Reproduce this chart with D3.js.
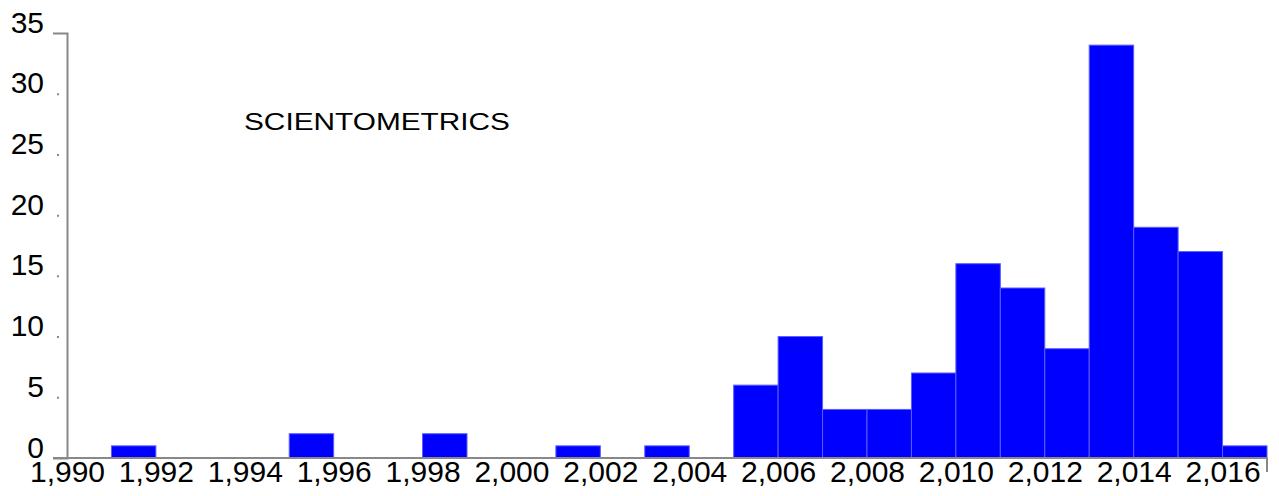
<!DOCTYPE html>
<html>
<head>
<meta charset="utf-8">
<script src="https://cdn.jsdelivr.net/npm/d3@7"></script>
<style>
  html, body { margin: 0; padding: 0; background: #fff; }
  svg { display: block; }
  text { font-family: "Liberation Sans", Arial, sans-serif; fill: #000; }
</style>
</head>
<body>
<svg id="chart" width="1279" height="496"></svg>
<script>
// Data
const binStarts = [1991, 1995, 1998, 2001, 2003, 2005, 2006, 2007, 2008, 2009, 2010, 2011, 2012, 2013, 2014, 2015, 2016];
const counts    = [1,    2,    2,    1,    1,    6,    10,   4,    4,    7,    16,   14,   9,    34,   19,   17,   1];
const xTicks = [1990, 1992, 1994, 1996, 1998, 2000, 2002, 2004, 2006, 2008, 2010, 2012, 2014, 2016];
const yTicks = [0, 5, 10, 15, 20, 25, 30, 35];
const title = "SCIENTOMETRICS";

const svg = d3.select("#chart");
const x = d3.scaleLinear().domain([1990, 2017]).range([67, 1267]);
const y = d3.scaleLinear().domain([0, 35]).range([458, 33]);

// bars
svg.append("g").selectAll("rect")
  .data(binStarts.map((s, i) => ({s, v: counts[i]})))
  .join("rect")
  .attr("x", d => x(d.s))
  .attr("width", d => x(d.s + 1) - x(d.s))
  .attr("y", d => y(d.v))
  .attr("height", d => y(0) - y(d.v))
  .attr("fill", "#0000ff")
  .attr("stroke", "#5c5cff")
  .attr("stroke-width", 1);

// y axis
const yAxis = d3.axisLeft(y).tickValues(yTicks).tickSizeInner(0).tickSizeOuter(14).tickPadding(23);
const gy = svg.append("g").attr("transform", "translate(67,0)").call(yAxis);
gy.select(".domain").attr("stroke", "#888").attr("stroke-width", 2);
gy.selectAll(".tick text")
  .attr("font-size", 30)
  .attr("font-family", "Liberation Sans, Arial, sans-serif")
  .attr("dy", "-1")
  .attr("x", -23);
gy.selectAll(".tick line").remove();
gy.selectAll(".tick").filter(d => d !== 0 && d !== 35)
  .append("line")
  .attr("x1", -10).attr("x2", -8)
  .attr("stroke", "#888").attr("stroke-width", 2);

// x axis
const xAxis = d3.axisBottom(x).tickValues(xTicks).tickFormat(d3.format(",")).tickSize(0).tickPadding(0);
const gx = svg.append("g").attr("transform", "translate(0,458)").call(xAxis);
gx.select(".domain").attr("d", "M53,0H1267V14").attr("stroke", "#888").attr("stroke-width", 2).attr("fill", "none");
gx.selectAll(".tick text")
  .attr("font-size", 30)
  .attr("font-family", "Liberation Sans, Arial, sans-serif")
  .attr("dy", null)
  .attr("y", 24);

// title
svg.append("text")
  .attr("x", 244).attr("y", 130)
  .attr("font-size", 24)
  .attr("textLength", 266)
  .attr("lengthAdjust", "spacingAndGlyphs")
  .text(title);
</script>
</body>
</html>
